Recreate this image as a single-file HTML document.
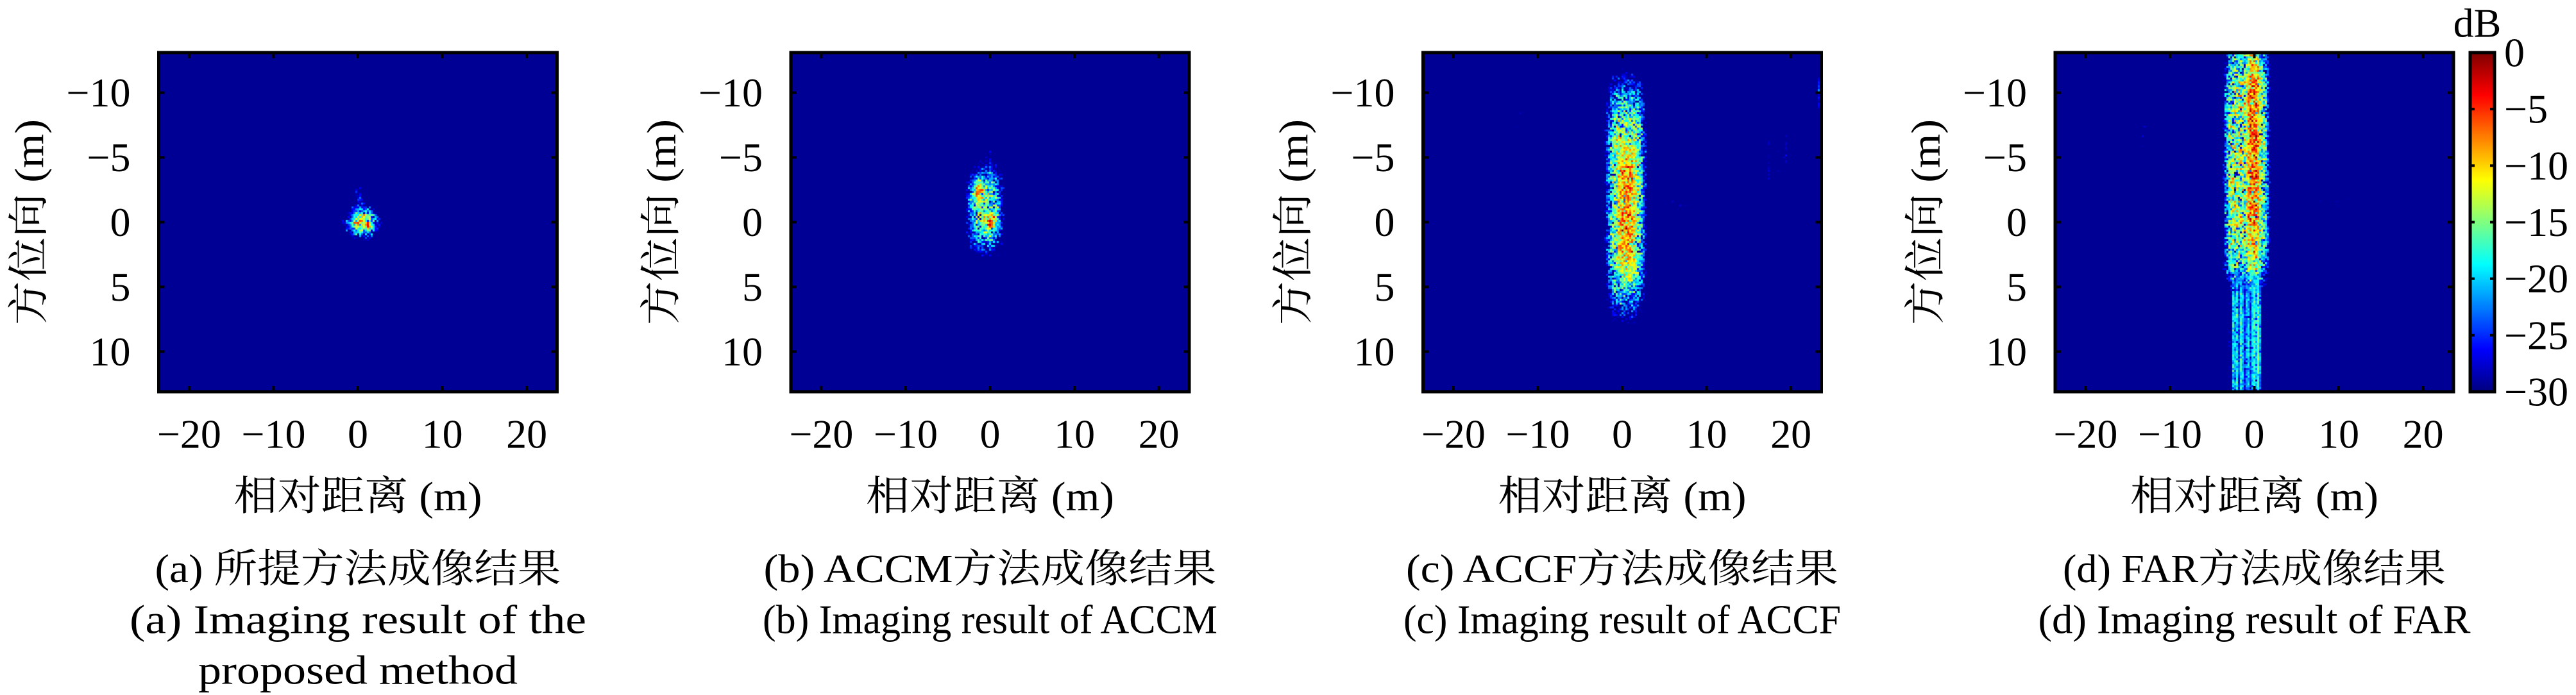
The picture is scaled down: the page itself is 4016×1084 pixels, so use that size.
<!DOCTYPE html>
<html><head><meta charset="utf-8">
<style>
html,body{margin:0;padding:0;background:#fff;}
#root{position:relative;width:4016px;height:1084px;overflow:hidden;background:#fff;}
canvas{position:absolute;}
svg{position:absolute;left:0;top:0;}
</style></head>
<body>
<div id="root">
<svg id="ov" width="4016" height="1084"></svg>
</div>
<script>
// ---- data ----
const panelIds = ["a","b","c","d"];
const xTicks = [-20,-10,0,10,20];
const yTicks = [-10,-5,0,5,10];
const cbTicks = [0,-5,-10,-15,-20,-25,-30];
const captionsCN = ["(a) 所提方法成像结果","(b) ACCM方法成像结果","(c) ACCF方法成像结果","(d) FAR方法成像结果"];
const captionsEN = [["(a) Imaging result of the","proposed method"],["(b) Imaging result of ACCM"],["(c) Imaging result of ACCF"],["(d) Imaging result of FAR"]];
// scatterer envelopes per panel: centre x, centre y (m), half-extent x, y (m), mean dB, shape exponent, column-streak flag
const scatA = [
 {cx:0.5,cy:0,sx:1.6,sy:1.0,pk:-12,p:2,col:0},
 {cx:0.1,cy:-0.8,sx:0.5,sy:2.4,pk:-24,p:2,col:0},
 {cx:-0.2,cy:0.1,sx:0.5,sy:0.4,pk:-7,p:2,col:0},
 {cx:1.1,cy:0.2,sx:0.5,sy:0.4,pk:-7,p:2,col:0}
];
const scatB = [
 {cx:-0.6,cy:-1.0,sx:1.9,sy:3.0,pk:-15,p:3,col:0},
 {cx:-1.3,cy:-2.3,sx:0.5,sy:1.0,pk:-6,p:2,col:0},
 {cx:0,cy:0,sx:0.8,sy:0.7,pk:-6,p:2,col:0},
 {cx:-0.3,cy:-2.0,sx:0.9,sy:4.0,pk:-26,p:2,col:1}
];
const scatC = [
 {cx:0.4,cy:-2.0,sx:2.1,sy:8.2,pk:-13,p:4,col:0},
 {cx:0.5,cy:-0.8,sx:1.2,sy:5.5,pk:-8,p:4,col:0},
 {cx:-11,cy:-8.5,sx:2.5,sy:2.5,pk:-33,p:2,col:1},
 {cx:18,cy:-5,sx:5,sy:5,pk:-35,p:2,col:1},
 {cx:7,cy:-1,sx:5,sy:2,pk:-35,p:2,col:0},
 {cx:23.2,cy:-10,sx:0.3,sy:1.5,pk:-26,p:2,col:1}
];
const scatD = [
 {cx:-0.9,cy:-4.5,sx:2.5,sy:9.0,pk:-13,p:6,col:0},
 {cx:-0.1,cy:-5,sx:0.8,sy:9,pk:-6,p:4,col:0},
 {cx:-0.9,cy:9,sx:2.1,sy:5.0,pk:-20,p:6,col:1},
 {cx:-18,cy:-5.5,sx:3,sy:4,pk:-33,p:2,col:1},
 {cx:-13,cy:-7,sx:2,sy:4,pk:-34,p:2,col:1},
 {cx:10,cy:-2,sx:6,sy:3,pk:-36,p:2,col:0}
];
const scatters = [scatA,scatB,scatC,scatD];

// ---- layout ----
const plotLeft0 = 247.5, panelStep = 985.5, plotW = 621, plotTop = 82, plotH = 529;
const xMin=-23.6, xMax=23.6, yMin=-13.1, yMax=13.1;
const NS="http://www.w3.org/2000/svg";
const ov=document.getElementById('ov');
const root=document.getElementById('root');
const SERIF='"Liberation Serif","Noto Serif CJK SC",serif';
const cnW=[633,706,674,597];
const enW=[[712,498],[709],[682],[674]];

function jet(t){
  t=Math.max(0,Math.min(1,t));
  const c=v=>Math.round(255*Math.max(0,Math.min(1,v)));
  return [c(1.5-Math.abs(4*t-3)),c(1.5-Math.abs(4*t-2)),c(1.5-Math.abs(4*t-1))];
}
function hash(i,j,s){
  let h=(i*374761393+j*668265263+s*2147483647)|0;
  h=(h^(h>>>13))*1274126177|0;h=h^(h>>>16);
  return ((h>>>0)%10000+0.5)/10001;
}
function spk(h){return 10*Math.log10(-Math.log(1-h));}
function txt(x,y,s,size,anchor,extra,len){
  const t=document.createElementNS(NS,'text');
  t.setAttribute('x',x);t.setAttribute('y',y);
  t.setAttribute('font-size',size);t.setAttribute('text-anchor',anchor||'middle');
  t.setAttribute('font-family',SERIF);t.setAttribute('dominant-baseline','central');
  if(extra)t.setAttribute('transform',extra);
  if(len){t.setAttribute('textLength',len);t.setAttribute('lengthAdjust','spacingAndGlyphs');}
  t.textContent=s;ov.appendChild(t);return t;
}
function line(x1,y1,x2,y2,w){
  const l=document.createElementNS(NS,'line');
  l.setAttribute('x1',x1);l.setAttribute('y1',y1);l.setAttribute('x2',x2);l.setAttribute('y2',y2);
  l.setAttribute('stroke','#000');l.setAttribute('stroke-width',w);ov.appendChild(l);return l;
}

panelIds.forEach((pid,k)=>{
  const L=plotLeft0+panelStep*k;
  const sx=v=>L+(v-xMin)/(xMax-xMin)*plotW;
  const sy=v=>plotTop+(v-yMin)/(yMax-yMin)*plotH;
  const cv=document.createElement('canvas');
  cv.width=plotW;cv.height=plotH;cv.style.left=L+'px';cv.style.top=plotTop+'px';
  
  
  root.insertBefore(cv,ov);
  const ctx=cv.getContext('2d');
  const cw=3, ch=3, nx=Math.ceil(plotW/cw), ny=Math.ceil(plotH/ch);
  for(let i=0;i<nx;i++){
    const xm=xMin+(i+0.5)*cw/plotW*(xMax-xMin);
    for(let j=0;j<ny;j++){
      const ym=yMin+(j+0.5)*ch/plotH*(yMax-yMin);
      let best=-40;
      scatters[k].forEach((s,si)=>{
        const r=Math.pow(Math.abs((xm-s.cx)/s.sx),s.p)+Math.pow(Math.abs((ym-s.cy)/s.sy),s.p);
        let sp;
        if(s.col){sp=1.3*spk(hash(i,7,si+k*10))+0.4*spk(hash(i,j,si+k*10+5));}
        else sp=spk(hash(i,j,si+k*10));
        const lv=s.pk-10*r+sp;
        if(lv>best)best=lv;
      });
      const t=(Math.max(-30,Math.min(0,best))+30)/30;
      const c=jet(0.02+t*0.98);
      ctx.fillStyle='rgb('+c[0]+','+c[1]+','+c[2]+')';
      ctx.fillRect(i*cw,j*ch,cw,ch);
    }
  }
  const fr=document.createElementNS(NS,'rect');
  fr.setAttribute('x',L);fr.setAttribute('y',plotTop);fr.setAttribute('width',plotW);fr.setAttribute('height',plotH);
  fr.setAttribute('fill','none');fr.setAttribute('stroke','#000');fr.setAttribute('stroke-width',5);
  
  
  ov.appendChild(fr);
  xTicks.forEach(v=>{
    const x=sx(v);
    line(x,plotTop+plotH,x,plotTop+plotH-9,4);line(x,plotTop,x,plotTop+9,4);
    const t=txt(x,677,(v<0?'\u2212':'')+Math.abs(v),64);
    
    
  });
  yTicks.forEach(v=>{
    const y=sy(v);
    line(L,y,L+9,y,4);line(L+plotW,y,L+plotW-9,y,4);
    const t=txt(L-44,y,(v<0?'\u2212':'')+Math.abs(v),64,'end');
    
    
  });
  const xl=txt(L+plotW/2,774,'相对距离 (m)',64,'middle',null,387);
  
  
  const yx=L-202, yy=plotTop+plotH/2;
  const yl=txt(yx,yy,'方位向 (m)',64,'middle','rotate(-90 '+yx+' '+yy+')',321);
  
  
  const c1=txt(L+plotW/2,888,captionsCN[k],62,'middle',null,cnW[k]);
  
  
  captionsEN[k].forEach((s,li)=>{
    const c=txt(L+plotW/2,966+li*79,s,64,'middle',null,enW[k][li]);
    
    
  });
});

// colorbar
const cbL=3851, cbW=38, cbT=82, cbH=529;
const cbc=document.createElement('canvas');
cbc.width=cbW;cbc.height=cbH;cbc.style.left=cbL+'px';cbc.style.top=cbT+'px';


root.insertBefore(cbc,ov);
const cctx=cbc.getContext('2d');
for(let y=0;y<cbH;y++){const c=jet(1-y/(cbH-1));cctx.fillStyle='rgb('+c[0]+','+c[1]+','+c[2]+')';cctx.fillRect(0,y,cbW,1);}
const cbf=document.createElementNS(NS,'rect');
cbf.setAttribute('x',cbL);cbf.setAttribute('y',cbT);cbf.setAttribute('width',cbW);cbf.setAttribute('height',cbH);
cbf.setAttribute('fill','none');cbf.setAttribute('stroke','#000');cbf.setAttribute('stroke-width',5);


ov.appendChild(cbf);
cbTicks.forEach(v=>{
  const y=cbT+(0-v)/30*cbH;
  line(cbL,y,cbL+7,y,4);line(cbL+cbW,y,cbL+cbW-7,y,4);
  const t=txt(3904,y,(v<0?'\u2212':'')+Math.abs(v),64,'start');
  
  
});
const db=txt(3862,36,'dB',64);


</script>
</body></html>
